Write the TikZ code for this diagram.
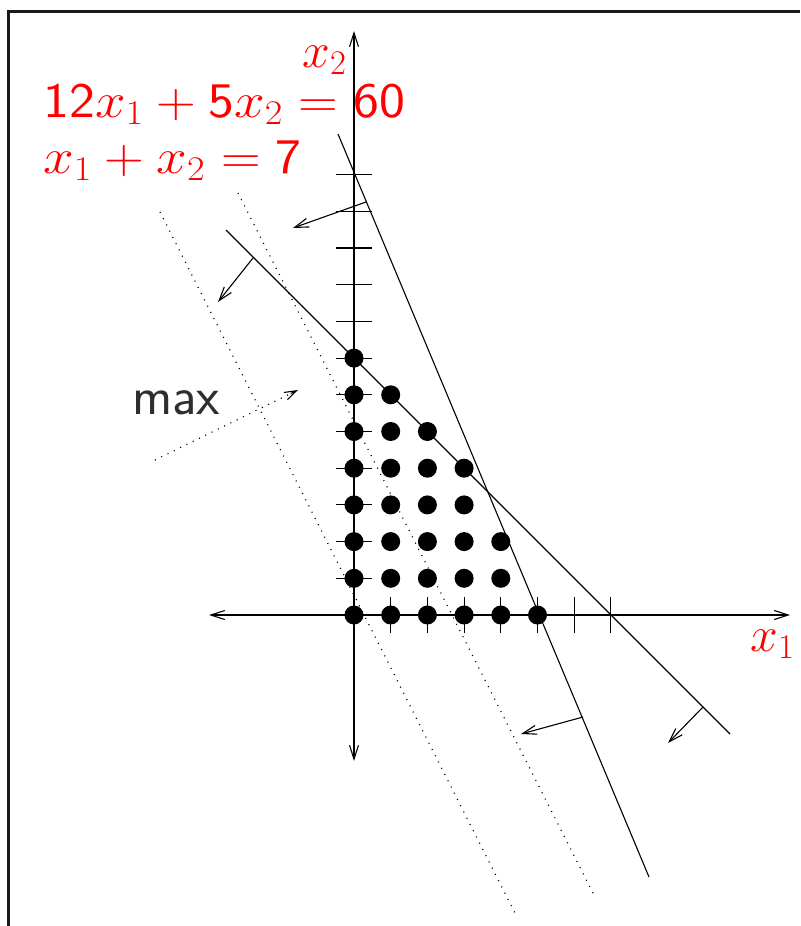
\documentclass[tikz,border=0pt]{standalone}
\usetikzlibrary{arrows.meta,calc}
\begin{document}
\begin{tikzpicture}[x=0.5pt,y=-0.5pt,
  thinline/.style={line width=0.55pt},
  barb/.style={-{Straight Barb[length=7pt,width=4.5pt]}},
  axis/.style={thinline,{Straight Barb[length=7pt,width=4.5pt]}-{Straight Barb[length=7pt,width=4.5pt]}},
  dotline/.style={line width=0.6pt,dash pattern=on 0.5pt off 3pt},
  redlbl/.style={text=red,inner sep=0pt,anchor=base west,font=\fontsize{24.5}{29}\selectfont},
  dot/.style={fill=black},
  frame/.style={line width=1.5pt,draw=black!90}
]
\useasboundingbox (0,0) rectangle (800,926);
% frame
\coordinate (fbl) at (8,926);
\coordinate (ftl) at (8,11);
\coordinate (ftr) at (800,11);
\draw[frame] (fbl) -- (ftl) -- (ftr);
% axes
\coordinate (xl) at (209,615);
\coordinate (xr) at (790,615);
\coordinate (yt) at (354,31);
\coordinate (yb) at (354,761);
\draw[axis] (xl) -- (xr);
\draw[axis] (yb) -- (yt);
% ticks
\foreach \i in {1,...,7} \draw[thinline] ({354+36.7*\i},597) -- ({354+36.7*\i},633);
\foreach \j in {1,...,12} \draw[thinline] (336,{615-36.7*\j}) -- (372,{615-36.7*\j});
% dotted objective lines
\coordinate (da1) at (160,212);
\coordinate (da2) at (516,915);
\coordinate (db1) at (238,193);
\coordinate (db2) at (594,895);
\draw[dotline] (da1) -- (da2);
\draw[dotline] (db1) -- (db2);
% objective direction
\coordinate (m1) at (155,460);
\coordinate (m2) at (298,390);
\draw[dotline] (m1) -- (m2);
\draw[thinline,-{Straight Barb[length=6pt,width=4pt]}] ($(m2)!0.05!(m1)$) -- (m2);
% constraint lines
\coordinate (ca1) at (338,134);
\coordinate (ca2) at (649,877);
\draw[thinline] (ca1) -- (ca2);
\coordinate (cb1) at (226,230);
\coordinate (cb2) at (730,734);
\draw[thinline] (cb1) -- (cb2);
% normals
\coordinate (na1) at (366,202); \coordinate (na1t) at (293,228);
\coordinate (na2) at (583,717); \coordinate (na2t) at (521,734);
\coordinate (nb1) at (253,258); \coordinate (nb1t) at (218,302);
\coordinate (nb2) at (703,707); \coordinate (nb2t) at (668,743);
\draw[thinline,barb] (na1) -- (na1t);
\draw[thinline,barb] (na2) -- (na2t);
\draw[thinline,barb] (nb1) -- (nb1t);
\draw[thinline,barb] (nb2) -- (nb2t);
% integer points
\foreach \a/\b in {0/5,1/4,2/4,3/3,4/3,5/2,6/1,7/0}
  \foreach \i in {0,...,\b}
    \fill[dot] ({354+36.7*\i},{615-36.7*\a}) circle[radius=4.75pt];
% labels
\node[redlbl] (eq1) at (43,117) {\scalebox{1.105}[1]{$\mathsf{12}x_1+\mathsf{5}x_2=\mathsf{60}$}};
\node[redlbl] (eq2) at (43,173) {\scalebox{1.105}[1]{$x_1+x_2=\mathsf{7}$}};
\node[redlbl] (lx2) at (302,67) {$x_2$};
\node[redlbl] (lx1) at (750,651) {$x_1$};
\node[text=black!82,inner sep=0pt,anchor=base west,font=\sffamily\fontsize{27}{31}\selectfont] (mx) at (132,414) {max};
\end{tikzpicture}
\end{document}
